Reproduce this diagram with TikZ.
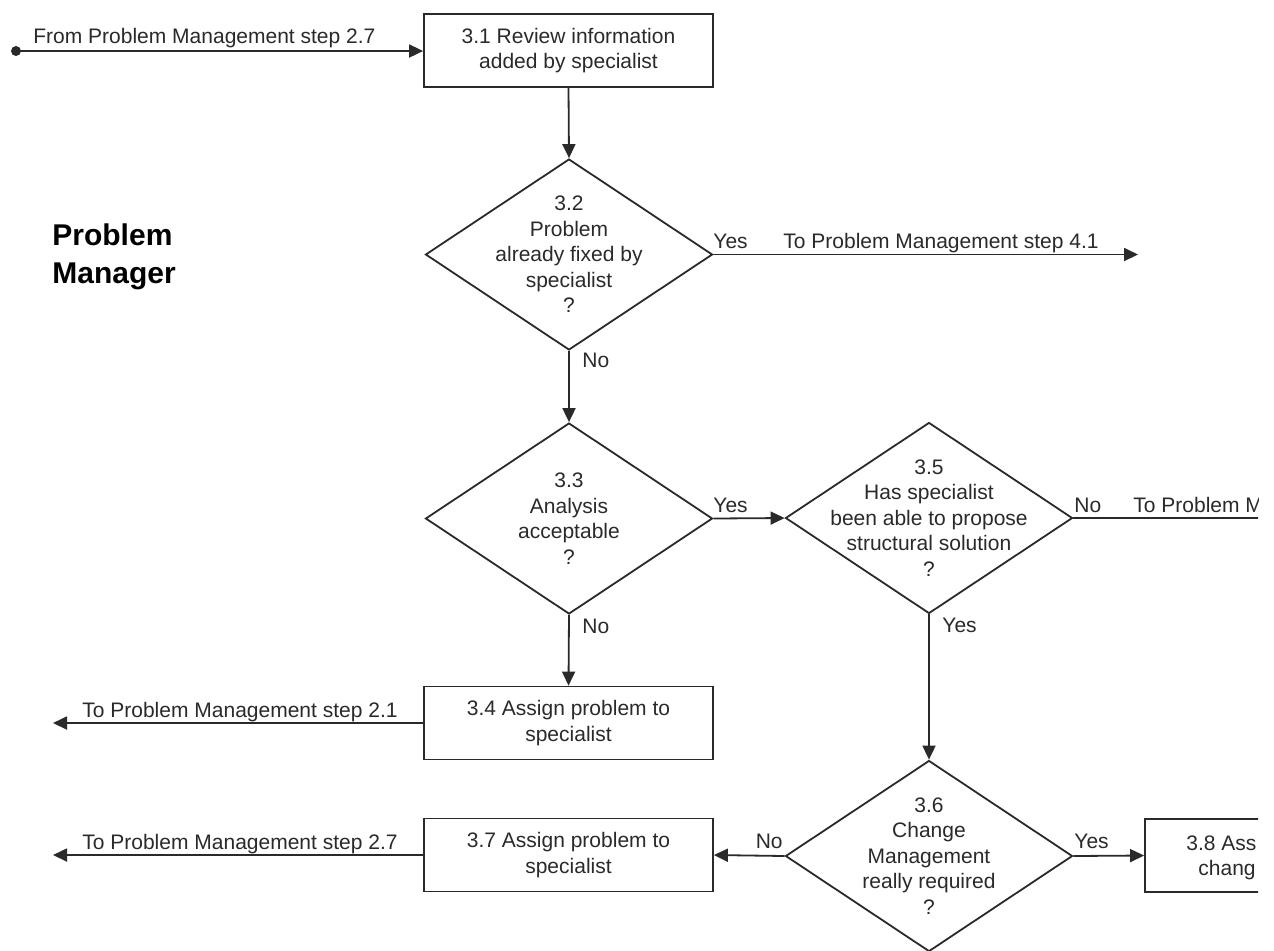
\documentclass[tikz,border=0pt]{standalone}
\usepackage{fontspec}
\setmainfont{Liberation Sans}
\usetikzlibrary{shapes.geometric,arrows.meta}
\definecolor{ink}{HTML}{2A2A2A}
\tikzset{
  stdfont/.style={font=\fontsize{10.5}{12.75}\selectfont, text=ink},
  procbox/.style={draw=ink, line width=0.9pt, rectangle, minimum width=144.5pt, minimum height=36.5pt, inner sep=0pt, stdfont, align=center},
  decbox/.style={draw=ink, line width=0.9pt, diamond, minimum width=143.5pt, minimum height=95.5pt, inner sep=0pt},
  dtext/.style={stdfont, align=center, inner sep=0pt},
  lbl/.style={stdfont, inner sep=0pt},
  conn/.style={draw=ink, line width=0.9pt},
  arr/.style={conn, -{Triangle[length=7pt,width=6.5pt]}},
  startdot/.style={circle, fill=ink, inner sep=0pt, minimum size=5pt}
}
\begin{document}
\begin{tikzpicture}[x=0.5pt,y=-0.5pt]
\useasboundingbox (0,0) rectangle (1274,950);
\fill[white] (0,0) rectangle (1274,950);
\clip (0,0) rectangle (1258,950);

% title
\node[anchor=north west, inner sep=0pt, align=left, text=black, font=\fontsize{15}{19}\selectfont\bfseries] (title) at (52,223) {Problem\\Manager};

% nodes
\node[startdot] (s0) at (16,51) {};
\node[procbox] (b31) at (568.5,50.5) {3.1 Review information\\added by specialist};
\node[decbox] (d32) at (569,254.5) {};
\node[dtext] (t32) at (569,254.5) {3.2\\Problem\\already fixed by\\specialist\\?};
\node[decbox] (d33) at (569,518.5) {};
\node[dtext] (t33) at (569,518.5) {3.3\\Analysis\\acceptable\\?};
\node[decbox] (d35) at (929,518) {};
\node[dtext] (t35) at (929,518) {3.5\\Has specialist\\been able to propose\\structural solution\\?};
\node[procbox] (b34) at (568.5,723) {3.4 Assign problem to\\specialist};
\node[decbox] (d36) at (929,856) {};
\node[dtext] (t36) at (929,856) {3.6\\Change\\Management\\really required\\?};
\node[procbox] (b37) at (568.5,855) {3.7 Assign problem to\\specialist};
\node[procbox] (b38) at (1289.5,855.5) {};
\node[lbl, anchor=base west] (t38a) at (1186,850) {3.8 Ass};
\node[lbl, anchor=base west] (t38b) at (1198,875) {chang};

% free ends
\coordinate (e41) at (1138,254.5);
\coordinate (e35) at (1300,518);
\coordinate (e21) at (53,723);
\coordinate (e27) at (53,855);

% connectors
\draw[arr] (s0.center) -- (s0 -| b31.west);
\draw[arr] (b31.south) -- (d32.north);
\draw[arr] (d32.east) -- (e41);
\draw[arr] (d32.south) -- (d33.north);
\draw[arr] (d33.east) -- (d35.west);
\draw[conn] (d35.east) -- (e35);
\draw[arr] (d33.south) -- (b34.north);
\draw[arr] (b34.west) -- (e21);
\draw[arr] (d35.south) -- (d36.north);
\draw[arr] (d36.west) -- (b37.east);
\draw[arr] (d36.east) -- (b38.west);
\draw[arr] (b37.west) -- (e27);

% connector labels
\node[lbl, anchor=base west] (lfrom) at (33,43) {From Problem Management step 2.7};
\node[lbl, anchor=base west] (ly32) at (713,248) {Yes};
\node[lbl, anchor=base west] (l41) at (783,248) {To Problem Management step 4.1};
\node[lbl, anchor=base west] (ln32) at (582,367) {No};
\node[lbl, anchor=base west] (ly33) at (713,512) {Yes};
\node[lbl, anchor=base west] (ln35) at (1074,512) {No};
\node[lbl, anchor=base west] (lto35) at (1133,512) {To Problem M};
\node[lbl, anchor=base west] (ln33) at (582,633) {No};
\node[lbl, anchor=base west] (ly35) at (942,632) {Yes};
\node[lbl, anchor=base west] (l21) at (82,717) {To Problem Management step 2.1};
\node[lbl, anchor=base east] (ln36) at (783,848) {No};
\node[lbl, anchor=base west] (ly36) at (1074,848) {Yes};
\node[lbl, anchor=base west] (l27) at (82,849) {To Problem Management step 2.7};
\end{tikzpicture}
\end{document}
